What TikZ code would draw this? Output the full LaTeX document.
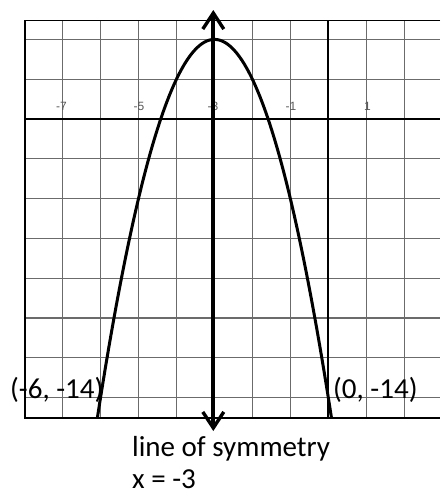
\documentclass[tikz,border=0pt]{standalone}
\usepackage{fontspec}
\setmainfont{Carlito}
\newfontfamily\axisfont{Liberation Sans}
\usetikzlibrary{arrows.meta}
\begin{document}
\begin{tikzpicture}[x=1pt,y=-1pt,
  gridline/.style={draw=black!58, line width=1.1pt},
  border/.style={draw=black, line width=1.3pt},
  axisline/.style={draw=black, line width=2pt},
  curve/.style={draw=black, line width=3pt},
  symarrow/.style={draw=black, line width=4pt,
     {Straight Barb[length=16pt,width=21pt,line width=3.4pt]}-{Straight Barb[length=16pt,width=21pt,line width=3.4pt]}},
  axlab/.style={font=\axisfont\fontsize{12}{12}\selectfont, text=black!65, inner sep=0pt},
  biglab/.style={font=\fontsize{29}{29}\selectfont, inner sep=0pt, anchor=base west}]
\useasboundingbox (0,0) rectangle (440,498);
% grid
\foreach \n in {-7,...,2}
  \draw[gridline] ({328.3+37.96*\n},20.7) -- ({328.3+37.96*\n},418);
\foreach \k in {-14,-12,...,-2,2,4}
  \draw[gridline] (25,{119-19.9*\k}) -- (440,{119-19.9*\k});
% borders
\draw[border] (440,20.7) -- (25,20.7) -- (25,418) -- (440,418);
% axes
\draw[axisline] (25,119) -- (440,119);
\draw[axisline] (328.3,20.7) -- (328.3,418);
% axis labels
\node[axlab] (l7) at (61.5,106) {-7};
\node[axlab] (l5) at (139,106) {-5};
\node[axlab] (l3) at (213,106) {-3};
\node[axlab] (l1) at (291,106) {-1};
\node[axlab] (p1) at (367.5,106) {1};
% parabola
\begin{scope}
\clip (25,20.7) rectangle (440,418);
\draw[curve] plot[domain=-6.2:0.2, samples=120, smooth] ({328.3+37.96*\x},{119-19.9*(-2*(\x+3)^2+4)});
\end{scope}
% line of symmetry
\coordinate (symtop) at (213.3,10);
\coordinate (symbot) at (213.3,431);
\draw[symarrow] (symbot) -- (symtop);
% labels
\node[biglab] (ptl) at (10,398) {(-6, -14)};
\node[biglab] (ptr) at (333,398) {(0, -14)};
\node[biglab] (los) at (132,456.7) {line of symmetry};
\node[biglab] (eqn) at (132,488) {x = -3};
\end{tikzpicture}
\end{document}
